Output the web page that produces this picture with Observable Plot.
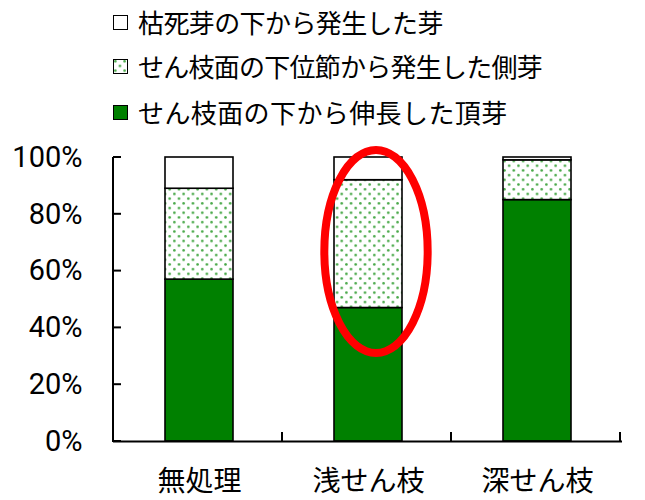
<!DOCTYPE html>
<html><head><meta charset="utf-8">
<script src="https://cdn.jsdelivr.net/npm/d3@7"></script>
<script src="https://cdn.jsdelivr.net/npm/@observablehq/plot@0.6"></script>
<style>
body{margin:0;background:#fff;width:645px;height:500px;overflow:hidden;font-family:"Noto Sans CJK JP",sans-serif}
#legend{position:relative;height:140px}
.row{position:absolute;left:113px;display:flex;align-items:center;font-size:26px;color:#000;white-space:nowrap;height:30px;line-height:30px}
.row svg{margin-right:10px;flex:none}
</style></head><body>
<div id="legend"></div><div id="chart"></div>
<script>
// ---- data ----
const categories = ["無処理", "浅せん枝", "深せん枝"];
const series = ["せん枝面の下から伸長した頂芽", "せん枝面の下位節から発生した側芽", "枯死芽の下から発生した芽"];
const apicalBud = [57, 47, 85];
const lateralBud = [32, 45, 14];
const deadBud = [11, 8, 1];
const yTicks = [0, 20, 40, 60, 80, 100];
const highlight = {category: "浅せん枝", yLow: 31, yHigh: 102.5};

const seriesValues = [apicalBud, lateralBud, deadBud];
const fills = ["#008000", "url(#dots)", "#ffffff"];

const rows = [];
categories.forEach((c, i) => series.forEach((s, j) => rows.push({category: c, series: s, value: seriesValues[j][i]})));

// ---- legend ----
const legend = document.getElementById("legend");
const legendTops = [7, 51, 97];
const legendSpacing = ["-0.6px", "-0.75px", "0.4px"];
const patternDef = (id) => `<pattern id="${id}" patternUnits="userSpaceOnUse" width="9.3" height="9.4"><rect width="9.3" height="9.4" fill="#fff"/><circle cx="2.3" cy="2.3" r="1.3" fill="#47a847"/><circle cx="6.95" cy="7" r="1.3" fill="#47a847"/></pattern>`;
[2, 1, 0].forEach((j, k) => {
  const row = document.createElement("div");
  row.className = "row";
  row.style.top = legendTops[k] + "px";
  const fill = j === 1 ? "url(#dotsL)" : fills[j];
  row.innerHTML = `<svg width="15" height="15"><defs>${patternDef("dotsL")}</defs><rect x="0.5" y="0.5" width="14" height="14" fill="${fill}" stroke="#000" stroke-width="1"/></svg><span style="letter-spacing:${legendSpacing[k]}">${series[j]}</span>`;
  legend.appendChild(row);
});

// ---- chart ----
const chart = Plot.plot({
  width: 645,
  height: 360,
  marginTop: 17,
  marginBottom: 59,
  marginLeft: 113,
  marginRight: 23,
  style: {background: "#fff", color: "#000", overflow: "visible"},
  x: {domain: categories, paddingInner: 0.6, paddingOuter: 0.3, label: null},
  y: {domain: [0, 100], label: null},
  color: {domain: series, range: fills},
  marks: [
    Plot.barY(rows, {x: "category", y: "value", fill: "series", stroke: "#000", strokeWidth: 1.6}),
    Plot.ruleY([0], {stroke: "#000", strokeWidth: 2}),
    Plot.axisY(yTicks, {tickSize: 0, tickPadding: 31, tickFormat: d => d + "%", fontSize: 29, fontFamily: "Roboto, 'Open Sans', sans-serif", fill: "#000"}),
    Plot.axisX({tickSize: 0, tickPadding: 30, fontSize: 28, fontFamily: "'Noto Sans CJK JP', sans-serif", fill: "#000"})
  ]
});
document.getElementById("chart").appendChild(chart);

const svg = d3.select(chart);
svg.insert("defs", ":first-child").html(patternDef("dots"));
const xs = chart.scale("x"), ys = chart.scale("y");
const x0 = 113, x1 = 645 - 23;
const yb = ys.apply(0), yt = ys.apply(100);
const g = svg.append("g").attr("stroke", "#000").attr("stroke-width", 2).attr("fill", "none");
g.append("line").attr("x1", x0).attr("x2", x0).attr("y1", yt).attr("y2", yb + 1);
yTicks.forEach(t => g.append("line").attr("x1", x0).attr("x2", x0 + 8).attr("y1", ys.apply(t)).attr("y2", ys.apply(t)));
[1, 2, 3].forEach(k => {
  const xx = x0 + k * xs.step;
  g.append("line").attr("x1", xx).attr("x2", xx).attr("y1", yb).attr("y2", yb - 9);
});
// highlight ellipse
const cx = xs.apply(highlight.category) + xs.bandwidth / 2 + 8;
const yl = ys.apply(highlight.yLow), yh = ys.apply(highlight.yHigh);
svg.append("ellipse")
  .attr("cx", cx).attr("cy", (yl + yh) / 2)
  .attr("rx", xs.bandwidth * 0.76).attr("ry", (yl - yh) / 2)
  .attr("fill", "none").attr("stroke", "#ff0000").attr("stroke-width", 8);
</script>
</body></html>
